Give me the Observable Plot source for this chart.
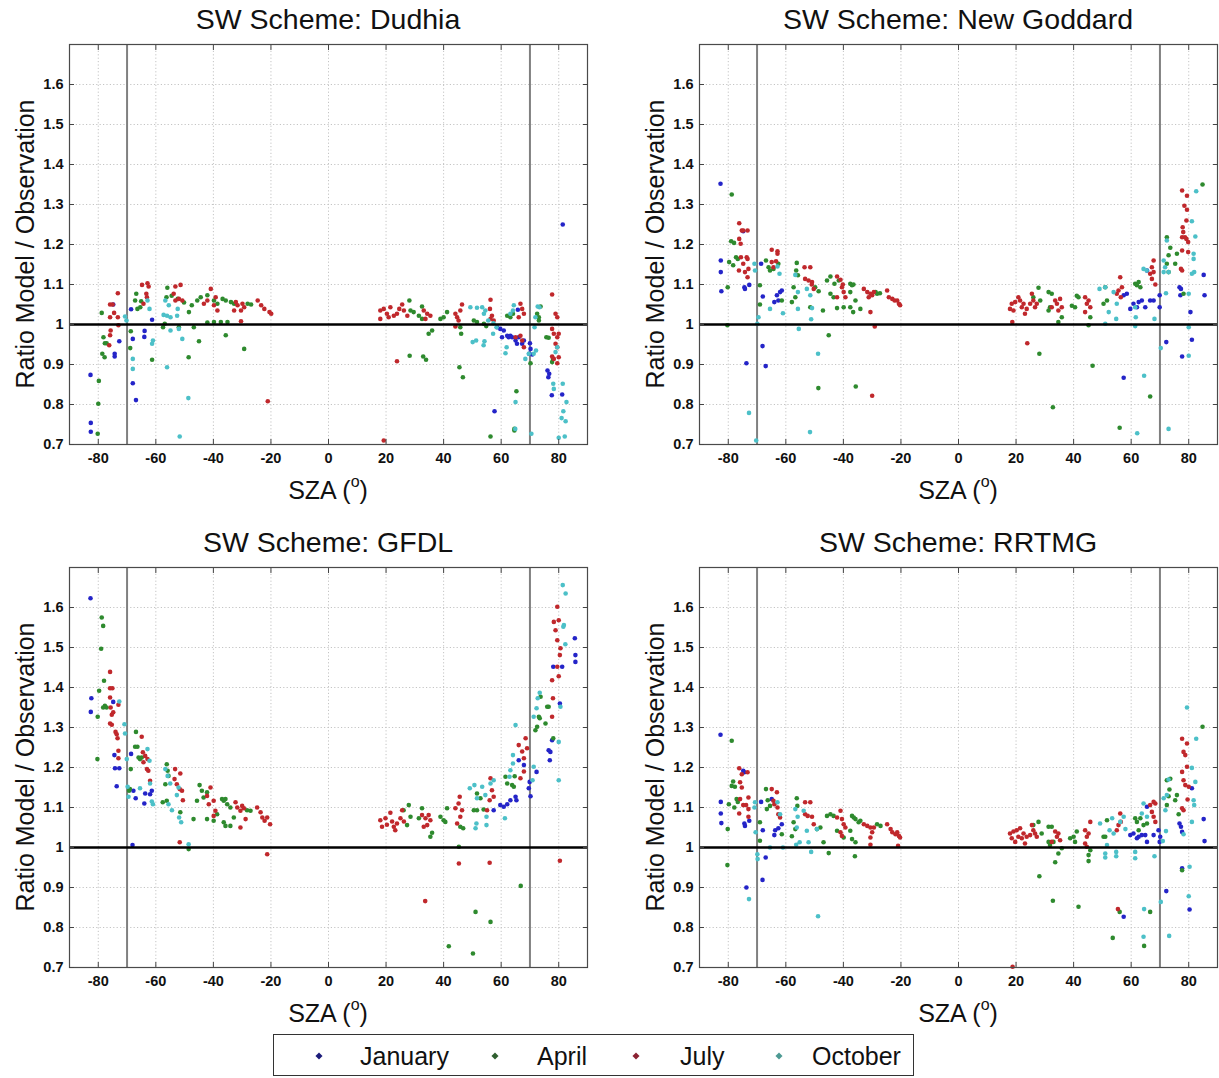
<!DOCTYPE html>
<html>
<head>
<meta charset="utf-8">
<script src="https://cdn.jsdelivr.net/npm/d3@7"></script>
<script src="https://cdn.jsdelivr.net/npm/@observablehq/plot@0.6"></script>
<style>
  body { margin: 0; background: #fff; font-family: Arial, "Liberation Sans", sans-serif; color: #111; }
  #root { position: relative; width: 1219px; height: 1078px; overflow: hidden; background: #fff; }
  .panel { position: absolute; }
  .panel svg { position: absolute; left: 0; top: 0; overflow: visible; }
  .panel svg text { font-weight: bold; }
  .title { position: absolute; font-size: 28.5px; line-height: 28px; white-space: nowrap; transform: translateX(-50%); }
  .ylab { position: absolute; font-size: 25px; line-height: 25px; white-space: nowrap; transform: translate(-50%, -50%) rotate(-90deg); }
  .xlab { position: absolute; font-size: 25px; line-height: 25px; white-space: nowrap; transform: translateX(-50%); }
  .xlab sup { font-size: 16px; vertical-align: 0; position: relative; top: -12px; }
  #legend { position: absolute; left: 273px; top: 1034px; width: 639px; height: 40px; border: 1.6px solid #333; background: #fff; }
  .lg-mark { position: absolute; width: 5px; height: 5px; transform: translate(-50%, -50%) rotate(45deg); }
  .lg-text { position: absolute; font-size: 25px; line-height: 25px; transform: translateY(-50%); white-space: nowrap; }
</style>
</head>
<body>
<div id="root"></div>
<script>
// ---------- data ----------
const months = ["January", "April", "July", "October"];
const schemes = ["Dudhia", "New Goddard", "GFDL", "RRTMG"];
const monthColors = ["#2424c8", "#2e8a2e", "#c0282c", "#4cc0c8"];
const legendColors = ["#1c1c7a", "#2f5f2f", "#8b2232", "#4d9a93"];
const xTicks = [-80, -60, -40, -20, 0, 20, 40, 60, 80];
const yTicks = [0.7, 0.8, 0.9, 1, 1.1, 1.2, 1.3, 1.4, 1.5, 1.6];
const xDomain = [-90, 90];
const yDomain = [0.7, 1.7];
const szaLimits = [-70, 70];
const referenceRatio = [1];

// [SZA, ratio]
const dudhiaJanuary = [[-82.7,0.874],[-82.6,0.754],[-82.6,0.732],[-74.8,1.05],[-74.3,0.927],[-74.3,0.92],[-72.7,0.958],[-68.6,1.038],[-68,0.964],[-68,0.853],[-66.9,0.811],[-61.3,1.012],[-63.9,0.984],[-64,0.969],
  [81.4,1.25],[57.7,0.783],[58.6,0.993],[59.7,0.989],[60.3,0.968],[60.9,0.985],[62.1,0.972],[62.6,0.968],[63.2,0.972],[63.8,0.968],[65,0.96],[65.5,0.952],[66.1,0.968],[67.9,0.96],[67.3,0.952],[65.8,1.037],[70,0.953],[70.2,0.939],[69.7,0.927],[70.8,0.925],[76.1,0.885],[76.7,0.877],[76.4,0.868],[77.6,0.823],[81.2,0.825]];
const dudhiaApril = [[-78.8,1.029],[-78.2,0.968],[-77.7,0.953],[-77.1,0.953],[-78.6,0.927],[-77.8,0.918],[-79.8,0.859],[-80,0.802],[-80.2,0.727],[-68.7,0.983],[-68.9,0.941],[-66.8,1.077],[-67.2,1.06],[-66.4,1.039],[-65.4,1.043],[-65.1,1.058],[-61.3,0.912],[-56,1.092],[-56.3,1.068],[-57.5,0.993],[-56.9,1.002],[-46.8,0.993],[-48.6,0.918],[-45,0.958],[-45.6,1.06],[-44.4,1.068],[-42.1,1.073],[-39.8,1.06],[-38.6,1.052],[-42.1,1.005],[-39.8,1.006],[-37.4,1.006],[-35.1,1.006],[-36.8,1.064],[-35.7,1.06],[-33.9,1.056],[-32.8,1.052],[-35.7,0.973],[-29.3,0.939],[-28.1,1.052],[-26.9,1.05],[-52.4,1.064],[-48.5,1.031],[-52,0.993],[-54.5,1.072],[-50.2,1.055],[-47.5,1.048],
  [28.1,1.06],[28.5,1.035],[29.6,1.031],[31.4,1.022],[32.5,1.045],[32.5,1.014],[28.2,0.922],[32.9,0.92],[33.9,0.912],[34.8,0.977],[36,0.985],[38.9,1.014],[40,1.018],[41.2,1.031],[45.8,0.993],[46.1,0.977],[45.5,0.893],[46.7,0.868],[50.5,1.01],[51.6,1.006],[54,1.002],[54.8,0.996],[56.3,0.72],[62.1,1.022],[63.2,1.018],[64.1,1.027],[65.3,0.833],[64.6,0.739],[64.6,0.735],[70.2,0.903],[72.5,1.027],[73.1,1.018],[73.7,1.045],[73.1,1.01],[75.7,0.968],[76.5,0.967],[78,0.914],[77.7,0.906]];
const dudhiaJuly = [[-73.2,1.078],[-75.9,1.05],[-75,1.05],[-75.9,1.018],[-74.5,1.029],[-73.2,1.018],[-73,0.998],[-75.7,0.985],[-75.9,0.973],[-76.2,0.948],[-64.8,1.099],[-62.9,1.103],[-62.5,1.095],[-63.3,1.077],[-63.1,1.068],[-64.3,1.052],[-53.2,1.095],[-51.4,1.099],[-53.8,1.077],[-53.2,1.06],[-52,1.064],[-50.8,1.06],[-40.9,1.089],[-39.2,1.068],[-39.8,1.048],[-38.6,1.035],[-43.3,1.052],[-42.1,1.06],[-32.2,1.056],[-31.6,1.048],[-29.9,1.052],[-29.3,1.043],[-30.4,1.035],[-24.6,1.06],[-23.4,1.048],[-22.3,1.039],[-20.5,1.031],[-19.9,1.027],[-30.4,1.008],[-21.1,0.808],[-32.8,1.035],
  [19.2,0.71],[18,1.035],[19.2,1.039],[20.3,1.027],[21.5,1.043],[22.7,1.022],[23.8,1.027],[25.6,1.05],[26.2,1.035],[27.4,1.022],[24.6,1.039],[18,1.014],[20.9,1.018],[23.8,0.908],[33.1,1.035],[34.3,1.027],[35.4,1.022],[33.7,1.014],[44.1,1.027],[44.7,1.018],[45.8,1.035],[46.4,1.05],[45.2,1.01],[44.1,0.995],[56.3,1.062],[56.1,1.039],[56.8,1.022],[56.3,1.014],[57.4,1.01],[66.7,1.052],[67.3,1.039],[67.9,1.027],[66.1,1.018],[66.7,0.972],[65,0.968],[67.3,0.96],[67.9,0.943],[77.7,1.075],[78.9,1.027],[79.5,1.018],[77.7,0.989],[78.3,0.977],[79.5,0.968],[80,0.977],[78.9,0.952],[79.5,0.943],[77.7,0.92],[78.3,0.914],[80,0.918],[79.5,0.903]];
const dudhiaOctober = [[-70.7,1.02],[-70.2,1.01],[-68,0.914],[-68,0.889],[-62.9,1.06],[-62.2,1.039],[-61,0.96],[-61.3,0.952],[-56.1,0.893],[-56.7,1.06],[-55.5,1.048],[-54.9,1.018],[-54.9,0.985],[-52,0.989],[-52.6,1.022],[-52.4,1.039],[-50.8,0.964],[-48.7,0.816],[-51.7,0.72],[-57.3,1.024],[-56.1,1.022],
  [49.3,1.043],[51.6,1.042],[53.4,1.043],[54.5,1.035],[54,1.027],[50.1,0.956],[51.3,0.96],[53.9,0.948],[54.2,0.958],[58.4,0.993],[57.2,0.977],[61.5,0.928],[61.9,0.943],[64.4,1.048],[64.1,1.035],[63.2,1.027],[65,0.806],[64.9,0.739],[68.4,0.914],[69.6,0.927],[71.3,0.927],[72.1,0.935],[70.5,0.727],[71.9,1.018],[71.6,0.993],[72.7,1.045],[73.3,1.043],[78.1,0.852],[78.3,0.839],[81.4,0.852],[82.7,0.806],[81.6,0.783],[81,0.766],[82.4,0.758],[80,0.717],[82.1,0.72],[79.5,0.943],[78.9,0.931],[55.5,1.01],[57.3,1.003]];

const goddardJanuary = [[-82.7,1.352],[-82.6,1.16],[-82.6,1.131],[-82.4,1.083],[-74.4,1.093],[-74.2,1.089],[-72.7,1.099],[-74.8,1.233],[-68.6,1.152],[-68,1.07],[-68.1,0.946],[-67,0.896],[-73.7,0.903],[-64,1.056],[-63.1,1.073],[-62,1.081],[-61.4,1.085],[-62.6,1.06],
  [57.4,0.867],[57.4,1.073],[58.5,1.077],[59.7,1.039],[60.8,1.052],[62,1.043],[62.6,1.056],[63.7,1.06],[64.9,1.043],[65.5,1.135],[66.6,1.06],[67.8,1.06],[69.9,1.073],[69.9,1.043],[72.2,0.956],[77.7,0.92],[80.6,1.031],[81.1,0.962],[76.8,1.093],[77.3,1.089],[77.1,1.073],[85.2,1.124],[85.5,1.073]];
const goddardApril = [[-78.8,1.325],[-79,1.208],[-78,1.204],[-77.3,1.168],[-76.7,1.164],[-79.7,1.156],[-78.3,1.148],[-80.2,1.093],[-80.3,0.998],[-69,1.098],[-69,1.05],[-66.9,1.16],[-66,1.143],[-65.5,1.135],[-64.3,1.139],[-62.6,1.152],[-61.4,1.06],[-56.2,1.154],[-56.4,1.135],[-55.8,1.123],[-57.3,1.093],[-56.7,1.068],[-57.9,1.056],[-51.5,1.043],[-47.1,1.035],[-48.7,0.841],[-45.1,0.973],[-45.7,1.11],[-44.5,1.12],[-43.1,1.102],[-41.6,1.11],[-44.5,1.077],[-43.4,1.068],[-42.2,1.041],[-39.9,1.043],[-37.6,1.102],[-37,1.098],[-36.5,1.1],[-37.6,1.081],[-37.6,1.043],[-36.6,1.031],[-34.1,1.039],[-35.8,1.06],[-35.7,0.845],[-28.8,1.081],[-28.3,1.077],[-27.3,1.078],[-49.8,1.093],[-48.6,1.083],
  [27.8,1.092],[26,1.068],[28.4,1.06],[31.3,1.081],[32.4,1.077],[31.8,1.043],[31.3,1.035],[34.7,1.006],[35.9,1.018],[28.1,0.927],[32.8,0.793],[39.4,1.047],[40.5,1.043],[41.1,1.072],[41.7,1.068],[45.2,0.998],[45.8,1.018],[46.6,0.897],[50.4,1.052],[51,1.093],[51.6,1.06],[56,0.742],[61.4,1.102],[62,1.098],[62.6,1.106],[63.2,1.093],[66.6,0.82],[72.4,1.218],[73.6,1.192],[73,1.173],[72.4,1.152],[73,1.131],[75.3,1.152],[75.9,1.177],[78.2,1.077],[84.8,1.35]];
const goddardJuly = [[-76.2,1.253],[-75.3,1.235],[-74.8,1.235],[-73.3,1.235],[-76.2,1.214],[-75.7,1.202],[-75.6,1.168],[-73.6,1.168],[-73.3,1.164],[-76.3,1.135],[-74.8,1.152],[-74.2,1.131],[-73,1.139],[-73.3,1.118],[-64.9,1.187],[-62.9,1.183],[-62.9,1.177],[-64.9,1.156],[-64.3,1.143],[-63.4,1.158],[-53.5,1.143],[-51.5,1.143],[-53.3,1.114],[-52.1,1.11],[-50.9,1.106],[-50.3,1.089],[-42.2,1.12],[-41,1.112],[-40.5,1.093],[-39.9,1.081],[-39.3,1.068],[-42.2,1.068],[-32.9,1.089],[-31.7,1.081],[-30.6,1.077],[-30,1.073],[-29.4,1.081],[-30.6,1.031],[-29.1,0.995],[-30,0.822],[-24.8,1.085],[-24.2,1.068],[-23,1.064],[-22.2,1.06],[-21.3,1.06],[-20.7,1.052],[-20.3,1.048],[-51,1.1],[-40.2,1.1],[-31.2,1.068],
  [18.7,1.006],[18.5,1.052],[19.7,1.056],[17.9,1.039],[19.1,1.035],[20.8,1.068],[21.4,1.06],[22,1.043],[22.6,1.052],[23.1,1.027],[23.7,1.039],[24.9,1.052],[25.5,1.077],[26,1.06],[26.6,1.043],[27.2,1.052],[23.9,0.953],[32.4,1.043],[33.6,1.06],[34.2,1.052],[34.7,1.035],[35.3,1.064],[35.9,1.043],[44,1.068],[44.6,1.052],[45.2,1.06],[45.8,1.043],[44,1.031],[56.2,1.118],[55.6,1.085],[55,1.077],[56.4,1.068],[56.8,1.093],[67.8,1.16],[67.2,1.143],[66.6,1.127],[67.2,1.114],[67.8,1.131],[68.4,1.1],[77.7,1.335],[79.4,1.322],[78.5,1.297],[79.4,1.287],[79.2,1.26],[77.9,1.243],[78.1,1.231],[78.7,1.218],[79.2,1.214],[79.8,1.206],[77.7,1.218],[77.7,1.185],[79.8,1.181],[77.3,1.139],[77.7,1.135]];
const goddardOctober = [[-70.9,1.152],[-70.7,1.135],[-69.5,1.018],[-69.9,1.002],[-72.8,0.779],[-70.3,0.71],[-65.5,1.039],[-62.9,1.145],[-62.2,1.127],[-61,1.028],[-56.7,1.124],[-55.8,1.081],[-55.8,1.039],[-55.5,0.989],[-52.7,1.089],[-51.5,1.073],[-50.9,1.041],[-51.2,1.013],[-48.8,0.927],[-51.6,0.731],
  [49,1.089],[51,1.093],[52.2,1.031],[51,1.002],[53.9,1.081],[54.8,1.014],[55,1.052],[61.4,1.043],[61.6,1.018],[61.4,0.996],[64.3,1.139],[65.4,1.135],[64.5,0.872],[62.1,0.728],[68.1,1.014],[70.3,0.941],[71.3,1.16],[72.4,1.21],[71.8,1.143],[71.3,1.131],[73,1.131],[72.1,1.078],[73,0.739],[80,1.077],[80,0.993],[80,0.922],[81.1,1.258],[82.3,1.22],[81.7,1.177],[81.7,1.164],[81.1,1.127],[81.9,1.131],[82.6,1.333]];

const gfdlJanuary = [[-82.7,1.623],[-82.4,1.373],[-82.6,1.339],[-74.8,1.364],[-74.4,1.231],[-74.2,1.198],[-72.7,1.198],[-73.6,1.153],[-68.6,1.234],[-67.8,1.142],[-67,1.123],[-64,1.11],[-63.7,1.135],[-62,1.133],[-61.4,1.142],[-68.1,1.006],
  [57.4,1.093],[59.7,1.106],[60.9,1.102],[62.1,1.108],[63.2,1.118],[65,1.127],[65.3,1.118],[66.1,1.218],[67.9,1.206],[69.6,1.148],[69.9,1.164],[70.2,1.128],[72.3,1.189],[76.5,1.243],[77.1,1.239],[76.9,1.218],[77.7,1.268],[80.4,1.36],[78.1,1.452],[81.2,1.452],[85.6,1.523],[85.8,1.481],[85.8,1.464]];
const gfdlApril = [[-78.8,1.575],[-78.3,1.554],[-79,1.497],[-78,1.417],[-79.7,1.392],[-77.7,1.354],[-77.1,1.35],[-78.3,1.35],[-80.2,1.327],[-80.3,1.221],[-68.7,1.196],[-69,1.146],[-69.3,1.142],[-66.9,1.289],[-67.2,1.252],[-66.4,1.252],[-66,1.225],[-65.5,1.221],[-64.9,1.225],[-56.2,1.208],[-55.9,1.192],[-55.6,1.179],[-56.7,1.158],[-57.6,1.113],[-56.2,1.117],[-48.6,0.996],[-51.5,1.088],[-46.9,1.071],[-45.7,1.117],[-44.8,1.156],[-44,1.142],[-43.4,1.125],[-42.2,1.138],[-42.2,1.071],[-39.9,1.067],[-38.7,1.083],[-37,1.121],[-36.4,1.117],[-35.8,1.121],[-35.2,1.108],[-34.1,1.1],[-36.4,1.063],[-35.8,1.054],[-34.1,1.054],[-32.9,1.075],[-28.3,1.093],[-27.1,1.092],
  [26.1,1.093],[27.9,1.106],[28.5,1.077],[27.3,1.056],[31.4,1.073],[32.5,1.098],[35.4,1.027],[36,1.037],[38.9,1.077],[40,1.068],[41.2,1.098],[40.6,1.064],[45.3,1.002],[45.8,1.052],[46.8,1.048],[50.5,1.093],[51.6,1.093],[53.9,1.095],[51.6,1.135],[52.8,1.123],[41.8,0.753],[50.2,0.735],[51.1,0.839],[56.3,0.814],[61.5,1.177],[62.1,1.16],[63.8,1.156],[64.4,1.152],[64.7,1.178],[66.8,0.904],[71.9,1.293],[72.5,1.302],[73.1,1.327],[73.4,1.323],[73.7,1.377],[75.4,1.31],[76,1.352],[76.5,1.352],[78.1,1.273]];
const gfdlJuly = [[-75.9,1.439],[-75.9,1.398],[-75.1,1.398],[-75.9,1.375],[-73,1.357],[-75.7,1.35],[-74.8,1.338],[-75.3,1.332],[-75.9,1.31],[-75.3,1.307],[-74,1.289],[-73.6,1.283],[-73.3,1.273],[-73,1.242],[-73,1.223],[-64.9,1.277],[-64.5,1.238],[-63.7,1.229],[-64.3,1.213],[-62.9,1.221],[-62.6,1.192],[-63.1,1.196],[-62,1.167],[-53.3,1.196],[-51.5,1.185],[-53.5,1.171],[-52.7,1.158],[-51.7,1.146],[-50.9,1.142],[-50.6,1.118],[-51.7,1.013],[-42.2,1.129],[-41,1.15],[-41.6,1.108],[-39.9,1.117],[-39.3,1.092],[-39.9,1.079],[-32.3,1.113],[-31.7,1.1],[-30.6,1.092],[-30,1.104],[-29.4,1.098],[-30.6,1.05],[-28.8,1.071],[-24.8,1.1],[-23.6,1.088],[-23,1.075],[-22.2,1.067],[-21.3,1.075],[-20.3,1.058],[-21.3,0.983],
  [18,1.068],[18.6,1.052],[19.8,1.073],[20.3,1.057],[21.5,1.087],[22.1,1.065],[22.7,1.052],[23.2,1.043],[23.8,1.06],[25,1.073],[25.6,1.093],[26.2,1.065],[32.5,1.081],[33.7,1.073],[34.8,1.081],[35.4,1.068],[34.3,1.056],[33.1,1.052],[33.6,0.866],[44.1,1.098],[45.2,1.11],[45.8,1.077],[44.7,1.06],[46.4,1.093],[45.6,1.127],[45.3,0.96],[56,0.962],[56.3,1.173],[56.8,1.143],[56,1.118],[57.4,1.127],[55.1,1.093],[66.1,1.256],[67.3,1.24],[67.9,1.223],[68.5,1.273],[69,1.248],[67.9,1.19],[66.7,1.173],[77.7,1.418],[78,1.373],[77.7,1.327],[79.5,1.452],[80,1.428],[80.4,1.481],[79.5,1.602],[78.3,1.564],[78.9,1.543],[79.5,1.518],[80.6,1.498],[80,1.568],[80.4,0.967]];
const gfdlOctober = [[-72.7,1.365],[-70.9,1.308],[-70.7,1.285],[-70.1,1.221],[-69.8,1.152],[-69.5,1.127],[-65.5,1.148],[-62.9,1.246],[-62.2,1.217],[-62,1.16],[-61,1.108],[-61.4,1.115],[-56.7,1.196],[-55.9,1.179],[-55,1.16],[-55.6,1.108],[-52.7,1.131],[-52.1,1.15],[-54.4,1.093],[-51.9,1.075],[-51.2,1.063],[-48.6,1.008],
  [49.1,1.148],[50.7,1.156],[51.6,1.123],[51.1,1.048],[51.4,1.06],[54.9,1.077],[54.9,1.056],[53.4,1.152],[54.5,1.131],[56.3,1.16],[57.4,1.168],[61.3,1.073],[63.2,1.193],[64.1,1.21],[64.1,1.231],[62.9,1.177],[65,1.306],[71.3,1.202],[70.9,1.168],[71.3,1.327],[72.3,1.348],[72.7,1.373],[73.4,1.387],[80,1.264],[80,1.168],[80.6,1.352],[81.8,1.556],[81.6,1.552],[82.3,1.508],[81.4,1.656],[82.4,1.635]];

const rrtmgJanuary = [[-82.7,1.282],[-82.6,1.114],[-82.6,1.085],[-82.4,1.061],[-74.8,1.192],[-74.4,1.188],[-74.4,1.06],[-74.2,1.054],[-72.7,1.067],[-73.7,0.9],[-68.6,1.114],[-68,1.043],[-67,0.975],[-68.1,0.919],[-64,1.031],[-63.7,1.043],[-62.6,1.048],[-61.4,1.058],[-64.9,1.121],
  [57.4,0.827],[59.7,1.031],[60.8,1.035],[62,1.023],[62.6,1.027],[63.7,1.031],[64.9,1.031],[65.5,1.102],[65.5,1.014],[67.8,1.031],[69.5,1.043],[69.9,1.014],[70.1,1.027],[72.2,0.891],[77.7,0.948],[80.3,0.845],[76.8,1.06],[77.3,1.052],[77.7,1.039],[81.1,1.148],[85.2,1.071],[85.5,1.016]];
const rrtmgApril = [[-78.8,1.267],[-78.8,1.154],[-78.3,1.165],[-77.7,1.152],[-79.8,1.108],[-77.1,1.121],[-76.7,1.114],[-77.9,1.1],[-80.2,1.046],[-80.3,0.956],[-69,1.063],[-69,1.017],[-66.9,1.146],[-66.3,1.118],[-65.5,1.104],[-66.6,1.096],[-61.4,1.033],[-56.2,1.123],[-56,1.104],[-57.3,1.063],[-56.7,1.046],[-57.9,1.028],[-49.2,1.046],[-48,1.05],[-46.9,1.013],[-45.1,0.986],[-45.7,1.079],[-44.5,1.083],[-43.4,1.079],[-42.2,1.042],[-39.9,1.025],[-37,1.079],[-36.4,1.075],[-35.8,1.071],[-34.7,1.063],[-34.1,1.067],[-37.6,1.042],[-37,1.021],[-35.8,1.013],[-36,0.978],[-28.3,1.058],[-27.1,1.054],
  [27.8,1.064],[26,1.056],[28.9,1.035],[31.3,1.052],[32.4,1.052],[31.3,1.014],[33,1.014],[31.8,1.006],[34.7,0.985],[35.9,0.998],[33.6,0.963],[28.1,0.928],[32.8,0.867],[38.8,1.023],[40,1.027],[41.1,1.04],[40.5,1.014],[45.2,0.981],[45.8,0.993],[45.2,0.966],[41.7,0.852],[50.4,1.027],[51,1.027],[51.6,1.068],[56,0.839],[53.6,0.774],[61.4,1.073],[62,1.064],[63.2,1.073],[62.6,1.043],[64.3,1.056],[65.5,1.06],[66.6,0.839],[64.5,0.754],[72.4,1.168],[73.6,1.172],[73.3,1.145],[73,1.128],[72.4,1.106],[75.9,1.131],[75.3,1.118],[76.5,1.083],[77.7,0.943],[84.8,1.302]];
const rrtmgJuly = [[-76.2,1.198],[-75.3,1.183],[-73.3,1.188],[-75.9,1.163],[-75.3,1.15],[-75.9,1.121],[-74.8,1.106],[-73.8,1.106],[-73,1.125],[-73,1.096],[-76.2,1.085],[-73,1.077],[-64.9,1.146],[-63.1,1.138],[-64.3,1.117],[-64,1.108],[-62.9,1.1],[-62.6,1.083],[-62,1.075],[-53.3,1.113],[-51.5,1.113],[-53.3,1.083],[-52.4,1.079],[-50.9,1.077],[-50.3,1.058],[-41,1.092],[-42.2,1.075],[-40.5,1.071],[-39.9,1.058],[-41,1.038],[-39.3,1.05],[-40.5,1.029],[-32.9,1.058],[-31.7,1.054],[-30.6,1.05],[-30,1.038],[-29.4,1.05],[-30.6,1.025],[-30.6,1.007],[-24.8,1.058],[-23.6,1.046],[-23,1.038],[-21.9,1.033],[-21.3,1.038],[-20.7,1.029],[-20.3,1.025],[-21,1.004],
  [18.8,0.702],[17.9,1.035],[18.5,1.023],[19.1,1.04],[19.7,1.014],[20.2,1.043],[20.8,1.027],[21.4,1.048],[22,1.023],[22.6,1.035],[23.1,1.01],[23.7,1.027],[24.9,1.031],[25.5,1.056],[26,1.043],[26.6,1.035],[27.2,1.027],[33.6,1.04],[34.2,1.027],[34.7,1.035],[35.3,1.018],[32.4,1.014],[44,1.043],[44.6,1.027],[45.2,1.035],[45.8,1.064],[44,1.01],[44.6,1.002],[55.6,1.056],[56.2,1.085],[55,1.043],[56.4,1.064],[55.4,0.846],[66.6,1.106],[67.8,1.114],[68.4,1.11],[67.2,1.089],[67.8,1.077],[68.4,1.064],[77.7,1.272],[79.4,1.26],[78.2,1.239],[78.8,1.231],[79.4,1.202],[77.7,1.189],[78.2,1.168],[78.8,1.156],[80,1.152],[77.7,1.098],[78.2,1.093],[79.6,1.12]];
const rrtmgOctober = [[-70.7,1.113],[-70.9,1.1],[-70.5,1.038],[-69.9,0.983],[-69.8,0.971],[-72.8,0.871],[-65.5,1],[-62.9,1.113],[-62,1.083],[-61,1],[-56.7,1.096],[-55.9,1.077],[-56.2,1.05],[-56.4,1.007],[-55.2,1.013],[-52.7,1.042],[-52.1,1.013],[-51.2,0.989],[-49.2,1.046],[-53.8,1.092],[-48.8,0.828],
  [49.2,1.06],[51.6,1.006],[51,0.985],[51,0.975],[52.5,1.043],[53.4,1.073],[53.9,1.035],[54.8,0.989],[54.8,0.978],[56.2,1.064],[57.4,1.077],[58,1.046],[61.4,0.989],[61.4,0.973],[63.7,1.085],[64.3,1.11],[65.5,1.077],[64.5,0.846],[64.3,0.777],[68.1,0.978],[70.3,0.864],[71,1.016],[72.1,1.041],[71.3,1.123],[72.4,1.131],[73,1.17],[71.9,1.093],[73.2,0.779],[78.2,1.033],[79.4,1.35],[80.3,0.952],[80,0.878],[81.1,1.199],[82.3,1.164],[81.7,1.118],[81.9,1.106],[81.1,1.064],[82.6,1.272]];

const schemeSeries = [
  [dudhiaJanuary, dudhiaApril, dudhiaJuly, dudhiaOctober],
  [goddardJanuary, goddardApril, goddardJuly, goddardOctober],
  [gfdlJanuary, gfdlApril, gfdlJuly, gfdlOctober],
  [rrtmgJanuary, rrtmgApril, rrtmgJuly, rrtmgOctober]
];

// ---------- layout ----------
const root = document.getElementById("root");
const panelPos = [[0, 0], [630, 0], [0, 523], [630, 523]];
const panelWidth = [609, 588, 609, 588];
const mLeft = 69, frameW = 518;
const fmt = d => String(d);
const gridStyle = {stroke: "#c4c4c4", strokeOpacity: 1, strokeDasharray: "1.2,2.2", strokeWidth: 1};

schemes.forEach((scheme, i) => {
  const rows = schemeSeries[i].flatMap((arr, m) => arr.map(([sza, ratio]) => ({sza, ratio, month: months[m]})));
  const W = panelWidth[i];
  const chart = Plot.plot({
    width: W, height: 504,
    marginLeft: mLeft, marginTop: 44, marginBottom: 60, marginRight: W - mLeft - frameW,
    x: {domain: xDomain},
    y: {domain: yDomain},
    color: {domain: months, range: monthColors},
    style: {fontSize: "14.5px", fontFamily: "Arial, 'Liberation Sans', sans-serif", color: "#111", background: "transparent"},
    marks: [
      Plot.gridX(xTicks, gridStyle),
      Plot.gridY(yTicks, gridStyle),
      Plot.ruleX(szaLimits, {stroke: "#808080", strokeWidth: 2}),
      Plot.dot(rows, {x: "sza", y: "ratio", fill: "month", r: 2.3, stroke: "none"}),
      Plot.ruleY(referenceRatio, {stroke: "#000", strokeWidth: 2.3}),
      Plot.frame({stroke: "#4a4a4a", strokeWidth: 1.2}),
      Plot.axisX(xTicks, {anchor: "bottom", tickSize: -5, tickPadding: 13, tickFormat: fmt, label: null, stroke: "#444"}),
      Plot.axisX(xTicks, {anchor: "top", tickSize: -5, fill: "none", label: null, stroke: "#444"}),
      Plot.axisY(yTicks, {anchor: "left", tickSize: -5, tickPadding: 11, tickFormat: fmt, label: null, stroke: "#444"}),
      Plot.axisY(yTicks, {anchor: "right", tickSize: -5, fill: "none", label: null, stroke: "#444"})
    ]
  });
  const panel = document.createElement("div");
  panel.className = "panel";
  panel.style.left = panelPos[i][0] + "px";
  panel.style.top = panelPos[i][1] + "px";
  panel.style.width = W + "px";
  panel.style.height = "523px";
  panel.appendChild(chart);

  const cx = (mLeft + frameW / 2) + "px";
  const title = document.createElement("div");
  title.className = "title";
  title.style.left = cx;
  title.style.top = "5px";
  title.textContent = "SW Scheme: " + scheme;
  panel.appendChild(title);

  const ylab = document.createElement("div");
  ylab.className = "ylab";
  ylab.style.left = "25px";
  ylab.style.top = "244px";
  ylab.textContent = "Ratio Model / Observation";
  panel.appendChild(ylab);

  const xlab = document.createElement("div");
  xlab.className = "xlab";
  xlab.style.left = cx;
  xlab.style.top = "478px";
  xlab.innerHTML = "SZA (<sup>o</sup>)";
  panel.appendChild(xlab);

  root.appendChild(panel);
});

// ---------- legend ----------
const legend = document.createElement("div");
legend.id = "legend";
const markX = [45, 221, 362, 505];
const textX = [86, 263, 406, 538];
months.forEach((m, k) => {
  const mk = document.createElement("div");
  mk.className = "lg-mark";
  mk.style.left = markX[k] + "px";
  mk.style.top = "21px";
  mk.style.background = legendColors[k];
  legend.appendChild(mk);
  const tx = document.createElement("div");
  tx.className = "lg-text";
  tx.style.left = textX[k] + "px";
  tx.style.top = "21px";
  tx.textContent = m;
  legend.appendChild(tx);
});
root.appendChild(legend);
</script>
</body>
</html>
